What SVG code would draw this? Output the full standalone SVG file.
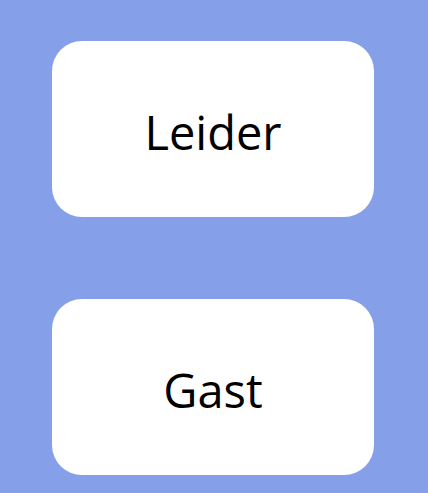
<svg xmlns="http://www.w3.org/2000/svg" width="428" height="493" viewBox="0 0 428 493">
<style>
.box{fill:#ffffff;}
.lbl{font-family:"Open Sans","Noto Sans",sans-serif;font-size:47px;fill:#000;text-anchor:middle;}
</style>
<rect width="428" height="493" fill="#85A0E8"/>
<g id="connectors"></g>
<g id="leider">
<rect class="box" x="52" y="41" width="322" height="176" rx="30" ry="30"/>
<text class="lbl" x="213" y="150">Leider</text>
</g>
<g id="gast">
<rect class="box" x="52" y="299" width="322" height="176" rx="30" ry="30"/>
<text class="lbl" x="213" y="408">Gast</text>
</g>
</svg>
